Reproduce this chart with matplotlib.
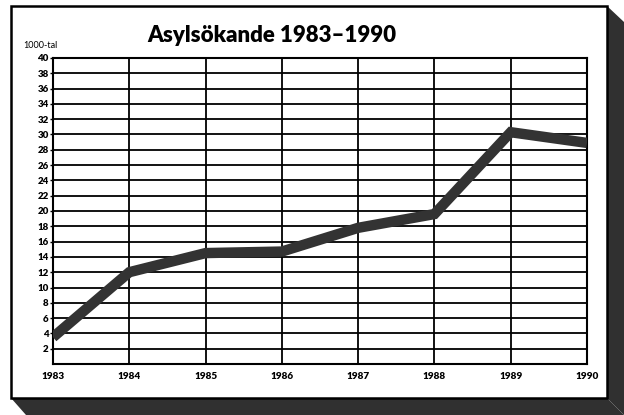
import matplotlib
matplotlib.use('Agg')
import matplotlib.pyplot as plt
from matplotlib.patches import Polygon, Rectangle

years = [1983, 1984, 1985, 1986, 1987, 1988, 1989, 1990]
asylum = [3.5, 12.0, 14.5, 14.7, 17.8, 19.6, 30.3, 28.9]
y_ticks = list(range(2, 41, 2))

plt.rcParams['font.family'] = ['Lato', 'DejaVu Sans']

W, H = 624, 415
fig = plt.figure(figsize=(W / 100, H / 100), dpi=100)

def fx(px):
    return px / W

def fy(py):
    return 1 - py / H

# box with a dark 3d shadow on the right and bottom
shadow = '#303030'
fig.patches.append(Polygon([(fx(607), fy(6)), (fx(624), fy(22)), (fx(624), fy(415)),
                            (fx(607), fy(398))], closed=True, transform=fig.transFigure,
                           facecolor=shadow, edgecolor='none', zorder=-3))
fig.patches.append(Polygon([(fx(11), fy(398)), (fx(607), fy(398)), (fx(624), fy(415)),
                            (fx(26), fy(415))], closed=True, transform=fig.transFigure,
                           facecolor=shadow, edgecolor='none', zorder=-3))
fig.patches.append(Rectangle((fx(11), fy(398)), fx(607) - fx(11), fy(6) - fy(398),
                             transform=fig.transFigure, facecolor='white',
                             edgecolor='black', linewidth=1.8, zorder=-2))

ax = fig.add_axes([fx(53), fy(364), fx(587) - fx(53), fy(58) - fy(364)])
ax.set_xlim(years[0], years[-1])
ax.set_ylim(0, 40)

for y in y_ticks:
    ax.axhline(y, color='black', linewidth=1.3, zorder=1)
for x in years[1:-1]:
    ax.axvline(x, color='black', linewidth=1.3, zorder=1)

ax.plot(years, asylum, color='#333333', linewidth=7.5, solid_joinstyle='miter',
        solid_capstyle='butt', zorder=3)

ax.set_xticks(years)
ax.set_xticklabels([str(y) for y in years], fontsize=7.2, fontweight='heavy')
ax.set_yticks(y_ticks)
ax.set_yticklabels([str(y) for y in y_ticks], fontsize=7, fontweight='heavy')
ax.tick_params(axis='y', length=2, width=1, pad=1)
ax.tick_params(axis='x', length=0, pad=6)
for s in ax.spines.values():
    s.set_linewidth(1.5)

fig.text(fx(23), fy(48), '1000-tal', fontsize=6.5, ha='left', va='baseline')
fig.text(fx(272), fy(42), 'Asylsökande 1983–1990', fontsize=16, fontweight='heavy',
         ha='center', va='baseline')

fig.savefig('out.png', dpi=100)
